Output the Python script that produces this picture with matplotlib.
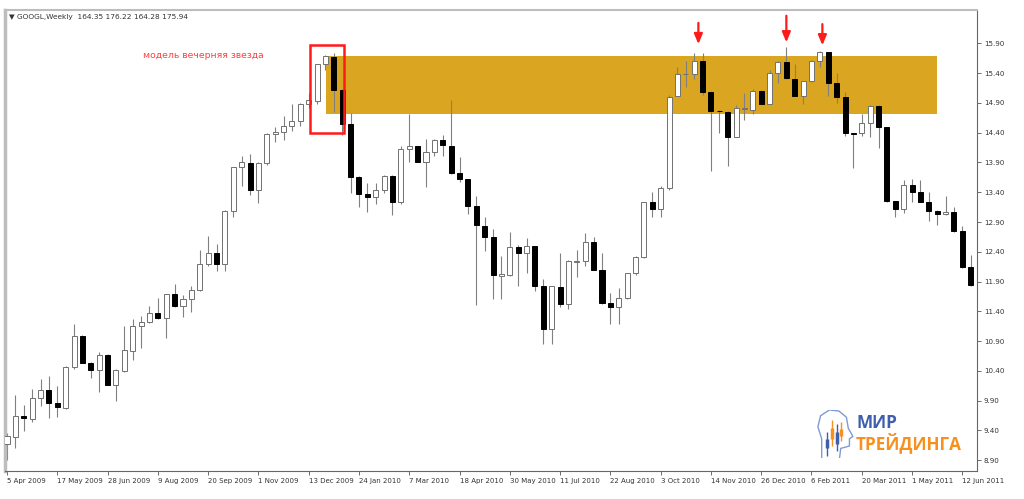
import matplotlib
matplotlib.use("Agg")
import matplotlib.pyplot as plt
from matplotlib.patches import Rectangle

# weekly GOOGL candles, 5 Apr 2009 .. 19 Jun 2011
opens = [9.18, 9.29, 9.65, 9.60, 9.95, 10.08, 9.87, 9.78, 10.46, 10.99,
         10.54, 10.42, 10.66, 10.17, 10.40, 10.74, 11.16, 11.22, 11.37, 11.29,
         11.69, 11.49, 11.61, 11.76, 12.20, 12.38, 12.20, 13.08, 13.82, 13.89,
         13.43, 13.89, 14.38, 14.41, 14.52, 14.60, 14.89, 14.93, 15.55, 15.67,
         15.12, 14.54, 13.66, 13.37, 13.32, 13.43, 13.68, 13.23, 14.12, 14.17,
         13.91, 14.07, 14.28, 14.18, 13.72, 13.62, 13.17, 12.84, 12.65, 12.00,
         12.01, 12.48, 12.38, 12.49, 11.82, 11.10, 11.81, 11.53, 12.23, 12.24,
         12.56, 12.10, 11.54, 11.48, 11.62, 12.04, 12.31, 13.23, 13.12, 13.47,
         15.02, 15.38, 15.38, 15.60, 15.09, 14.77, 14.74, 14.33, 14.80, 14.78,
         15.10, 14.89, 15.41, 15.58, 15.30, 15.02, 15.26, 15.61, 15.75, 15.23,
         15.00, 14.39, 14.39, 14.57, 14.84, 14.49, 13.25, 13.12, 13.53, 13.41,
         13.24, 13.09, 13.04, 13.07, 12.75, 12.14]
highs = [9.36, 9.99, 9.83, 10.10, 10.26, 10.31, 10.14, 10.49, 11.19, 11.00,
         10.55, 10.72, 10.69, 10.44, 11.15, 11.27, 11.32, 11.49, 11.63, 11.70,
         11.86, 11.67, 11.82, 12.43, 12.67, 12.53, 13.10, 13.83, 14.01, 14.04,
         13.90, 14.39, 14.49, 14.68, 14.88, 14.90, 15.07, 15.56, 15.70, 15.73,
         15.13, 14.73, 13.67, 13.55, 13.56, 13.69, 13.69, 14.18, 14.71, 14.18,
         14.29, 14.30, 14.36, 14.95, 14.00, 13.63, 13.33, 12.99, 12.78, 12.33,
         12.73, 12.52, 12.64, 12.50, 11.94, 11.83, 12.38, 12.26, 12.43, 12.72,
         12.65, 12.38, 11.71, 11.79, 12.05, 12.33, 13.24, 13.41, 13.50, 15.03,
         15.50, 15.61, 15.73, 15.74, 15.10, 14.78, 14.76, 14.86, 15.07, 15.14,
         15.11, 15.46, 15.61, 15.84, 15.55, 15.27, 15.62, 15.78, 15.76, 15.41,
         15.09, 14.40, 14.71, 14.86, 14.86, 14.50, 13.26, 13.61, 13.62, 13.61,
         13.40, 13.10, 13.34, 13.16, 12.83, 12.35]
lows = [8.91, 9.11, 9.39, 9.54, 9.81, 9.61, 9.62, 9.76, 10.44, 10.53,
        10.28, 10.04, 10.16, 9.90, 10.39, 10.59, 10.79, 11.20, 11.28, 10.96,
        11.48, 11.31, 11.39, 11.75, 12.16, 12.07, 12.08, 12.99, 13.51, 13.36,
        13.22, 13.86, 14.24, 14.28, 14.43, 14.52, 14.81, 14.89, 15.45, 14.74,
        14.36, 13.38, 13.16, 13.07, 13.20, 13.38, 13.01, 13.20, 13.91, 13.90,
        13.49, 14.01, 14.01, 13.71, 13.57, 13.04, 11.51, 12.42, 11.60, 11.60,
        12.00, 11.82, 12.05, 11.75, 10.85, 10.85, 11.48, 11.44, 11.97, 12.16,
        12.09, 11.53, 11.19, 11.19, 11.61, 12.01, 12.29, 12.98, 12.98, 13.44,
        15.01, 15.17, 15.30, 15.03, 13.76, 14.39, 13.84, 14.32, 14.61, 14.71,
        14.88, 14.88, 15.23, 15.30, 15.01, 14.89, 15.25, 15.51, 15.02, 14.90,
        14.34, 13.80, 14.34, 14.32, 14.14, 13.24, 12.99, 13.05, 13.24, 13.23,
        12.91, 12.85, 13.02, 12.74, 12.13, 11.83]
closes = [9.30, 9.65, 9.61, 9.95, 10.08, 9.87, 9.79, 10.47, 10.99, 10.54,
          10.42, 10.66, 10.17, 10.42, 10.75, 11.16, 11.22, 11.37, 11.29, 11.69,
          11.49, 11.61, 11.76, 12.20, 12.38, 12.20, 13.09, 13.82, 13.90, 13.43,
          13.89, 14.38, 14.42, 14.52, 14.60, 14.89, 14.95, 15.55, 15.69, 15.12,
          14.54, 13.66, 13.37, 13.32, 13.43, 13.68, 13.23, 14.12, 14.17, 13.91,
          14.07, 14.28, 14.19, 13.72, 13.62, 13.17, 12.85, 12.65, 12.01, 12.02,
          12.48, 12.38, 12.49, 11.82, 11.10, 11.82, 11.53, 12.24, 12.24, 12.56,
          12.10, 11.54, 11.48, 11.62, 12.04, 12.32, 13.23, 13.12, 13.47, 15.00,
          15.38, 15.39, 15.60, 15.09, 14.77, 14.76, 14.33, 14.81, 14.81, 15.10,
          14.89, 15.41, 15.59, 15.31, 15.02, 15.26, 15.61, 15.75, 15.23, 15.00,
          14.40, 14.38, 14.57, 14.84, 14.49, 13.25, 13.12, 13.53, 13.40, 13.24,
          13.09, 13.04, 13.07, 12.75, 12.14, 11.84]

date_labels = ["5 Apr 2009", "17 May 2009", "28 Jun 2009", "9 Aug 2009", "20 Sep 2009",
               "1 Nov 2009", "13 Dec 2009", "24 Jan 2010", "7 Mar 2010", "18 Apr 2010",
               "30 May 2010", "11 Jul 2010", "22 Aug 2010", "3 Oct 2010", "14 Nov 2010",
               "26 Dec 2010", "6 Feb 2011", "20 Mar 2011", "1 May 2011", "12 Jun 2011"]
date_pos = [6 * k for k in range(len(date_labels))]
price_ticks = [8.90 + 0.5 * k for k in range(15)]

# annotations (week index / price)
zone_x = (38.1, 111.0)
zone_y = (14.71, 15.69)
box_x = (36.2, 40.2)
box_y = (14.40, 15.88)
arrow_x = [82.5, 93.0, 97.3]
arrow_top = [16.29, 16.41, 16.27]
arrow_tip = [15.84, 15.87, 15.82]

fig = plt.figure(figsize=(10.24, 4.99), dpi=100)
ax = fig.add_axes([5 / 1024, 28 / 499, 972 / 1024, 461 / 499])

ax.add_patch(Rectangle((zone_x[0], zone_y[0]), zone_x[1] - zone_x[0], zone_y[1] - zone_y[0],
                       facecolor="#DAA520", edgecolor="none", zorder=1))

w = 0.6
for i in range(len(opens)):
    o, h, l, c = opens[i], highs[i], lows[i], closes[i]
    ax.vlines(i, l, h, color="#808080", lw=0.8, zorder=2)
    bottom = min(o, c)
    height = max(abs(c - o), 0.012)
    if c >= o:
        ax.bar(i, height, w, bottom=bottom, facecolor="white", edgecolor="#707070",
               lw=0.7, zorder=3)
    else:
        ax.bar(i, height, w, bottom=bottom, facecolor="black", edgecolor="black",
               lw=0.7, zorder=3)

ax.add_patch(Rectangle((box_x[0], box_y[0]), box_x[1] - box_x[0], box_y[1] - box_y[0],
                       facecolor="none", edgecolor="#ff1a1a", lw=1.8, zorder=5))
for xa, yt, yb in zip(arrow_x, arrow_top, arrow_tip):
    ax.annotate("", xy=(xa, yb), xytext=(xa, yt),
                arrowprops=dict(arrowstyle="-|>,head_width=0.25,head_length=0.6",
                                color="#ff1a1a", lw=1.6), zorder=6)

ax.text(16.2, 15.70, "модель вечерняя звезда", color="#ff4040", fontsize=6.7,
        va="center", ha="left")

ax.set_xlim(-0.24, 115.75)
ax.set_ylim(8.72, 16.46)
ax.yaxis.tick_right()
ax.set_yticks(price_ticks)
ax.set_yticklabels([f"{t:.2f}" for t in price_ticks], fontsize=5.1, color="#333333")
ax.set_xticks(date_pos)
ax.set_xticklabels(date_labels, fontsize=5.0, color="#333333", ha="left")
ax.tick_params(axis="both", length=3, width=0.6, color="#555555", pad=2)

ax.spines["left"].set_color("#bdbdbd")
ax.spines["left"].set_linewidth(2.5)
ax.spines["top"].set_color("#bdbdbd")
ax.spines["top"].set_linewidth(1.5)
ax.spines["right"].set_color("#666666")
ax.spines["right"].set_linewidth(0.8)
ax.spines["bottom"].set_color("#666666")
ax.spines["bottom"].set_linewidth(0.8)

fig.text(9 / 1024, 1 - 17 / 499, "▼ GOOGL,Weekly  164.35 176.22 164.28 175.94",
         fontsize=5.3, color="#333333", va="center")

# logo
fig.text(857 / 1024, 1 - 423 / 499, "МИР", fontsize=12.3, fontweight="bold",
         color="#3f5fae", va="center", family=["Open Sans", "DejaVu Sans"])
fig.text(856 / 1024, 1 - 443 / 499, "ТРЕЙДИНГА", fontsize=12.3, fontweight="bold",
         color="#f7901e", va="center", family=["Open Sans", "DejaVu Sans"])
icon = fig.add_axes([816 / 1024, 1 - 458 / 499, 38 / 1024, 48 / 499])
icon.axis("off")
icon.set_xlim(0, 1)
icon.set_ylim(0, 1)
hx = [0.15, 0.15, 0.05, 0.12, 0.35, 0.6, 0.8, 0.85, 0.97, 0.88, 0.88, 0.65, 0.62]
hy = [0.0, 0.4, 0.65, 0.88, 1.0, 0.98, 0.85, 0.62, 0.45, 0.4, 0.25, 0.2, 0.0]
icon.plot(hx, hy, color="#7e9bd3", lw=1.0)
icon.vlines([0.3, 0.42, 0.54, 0.66], [0.05, 0.25, 0.15, 0.35], [0.55, 0.8, 0.7, 0.75],
            colors=["#3f5fae", "#f7901e", "#3f5fae", "#f7901e"], lw=1.0)
icon.vlines([0.3, 0.42, 0.54, 0.66], [0.2, 0.4, 0.3, 0.45], [0.4, 0.62, 0.55, 0.6],
            colors=["#3f5fae", "#f7901e", "#3f5fae", "#f7901e"], lw=2.5)

fig.savefig("out.png", dpi=100)
